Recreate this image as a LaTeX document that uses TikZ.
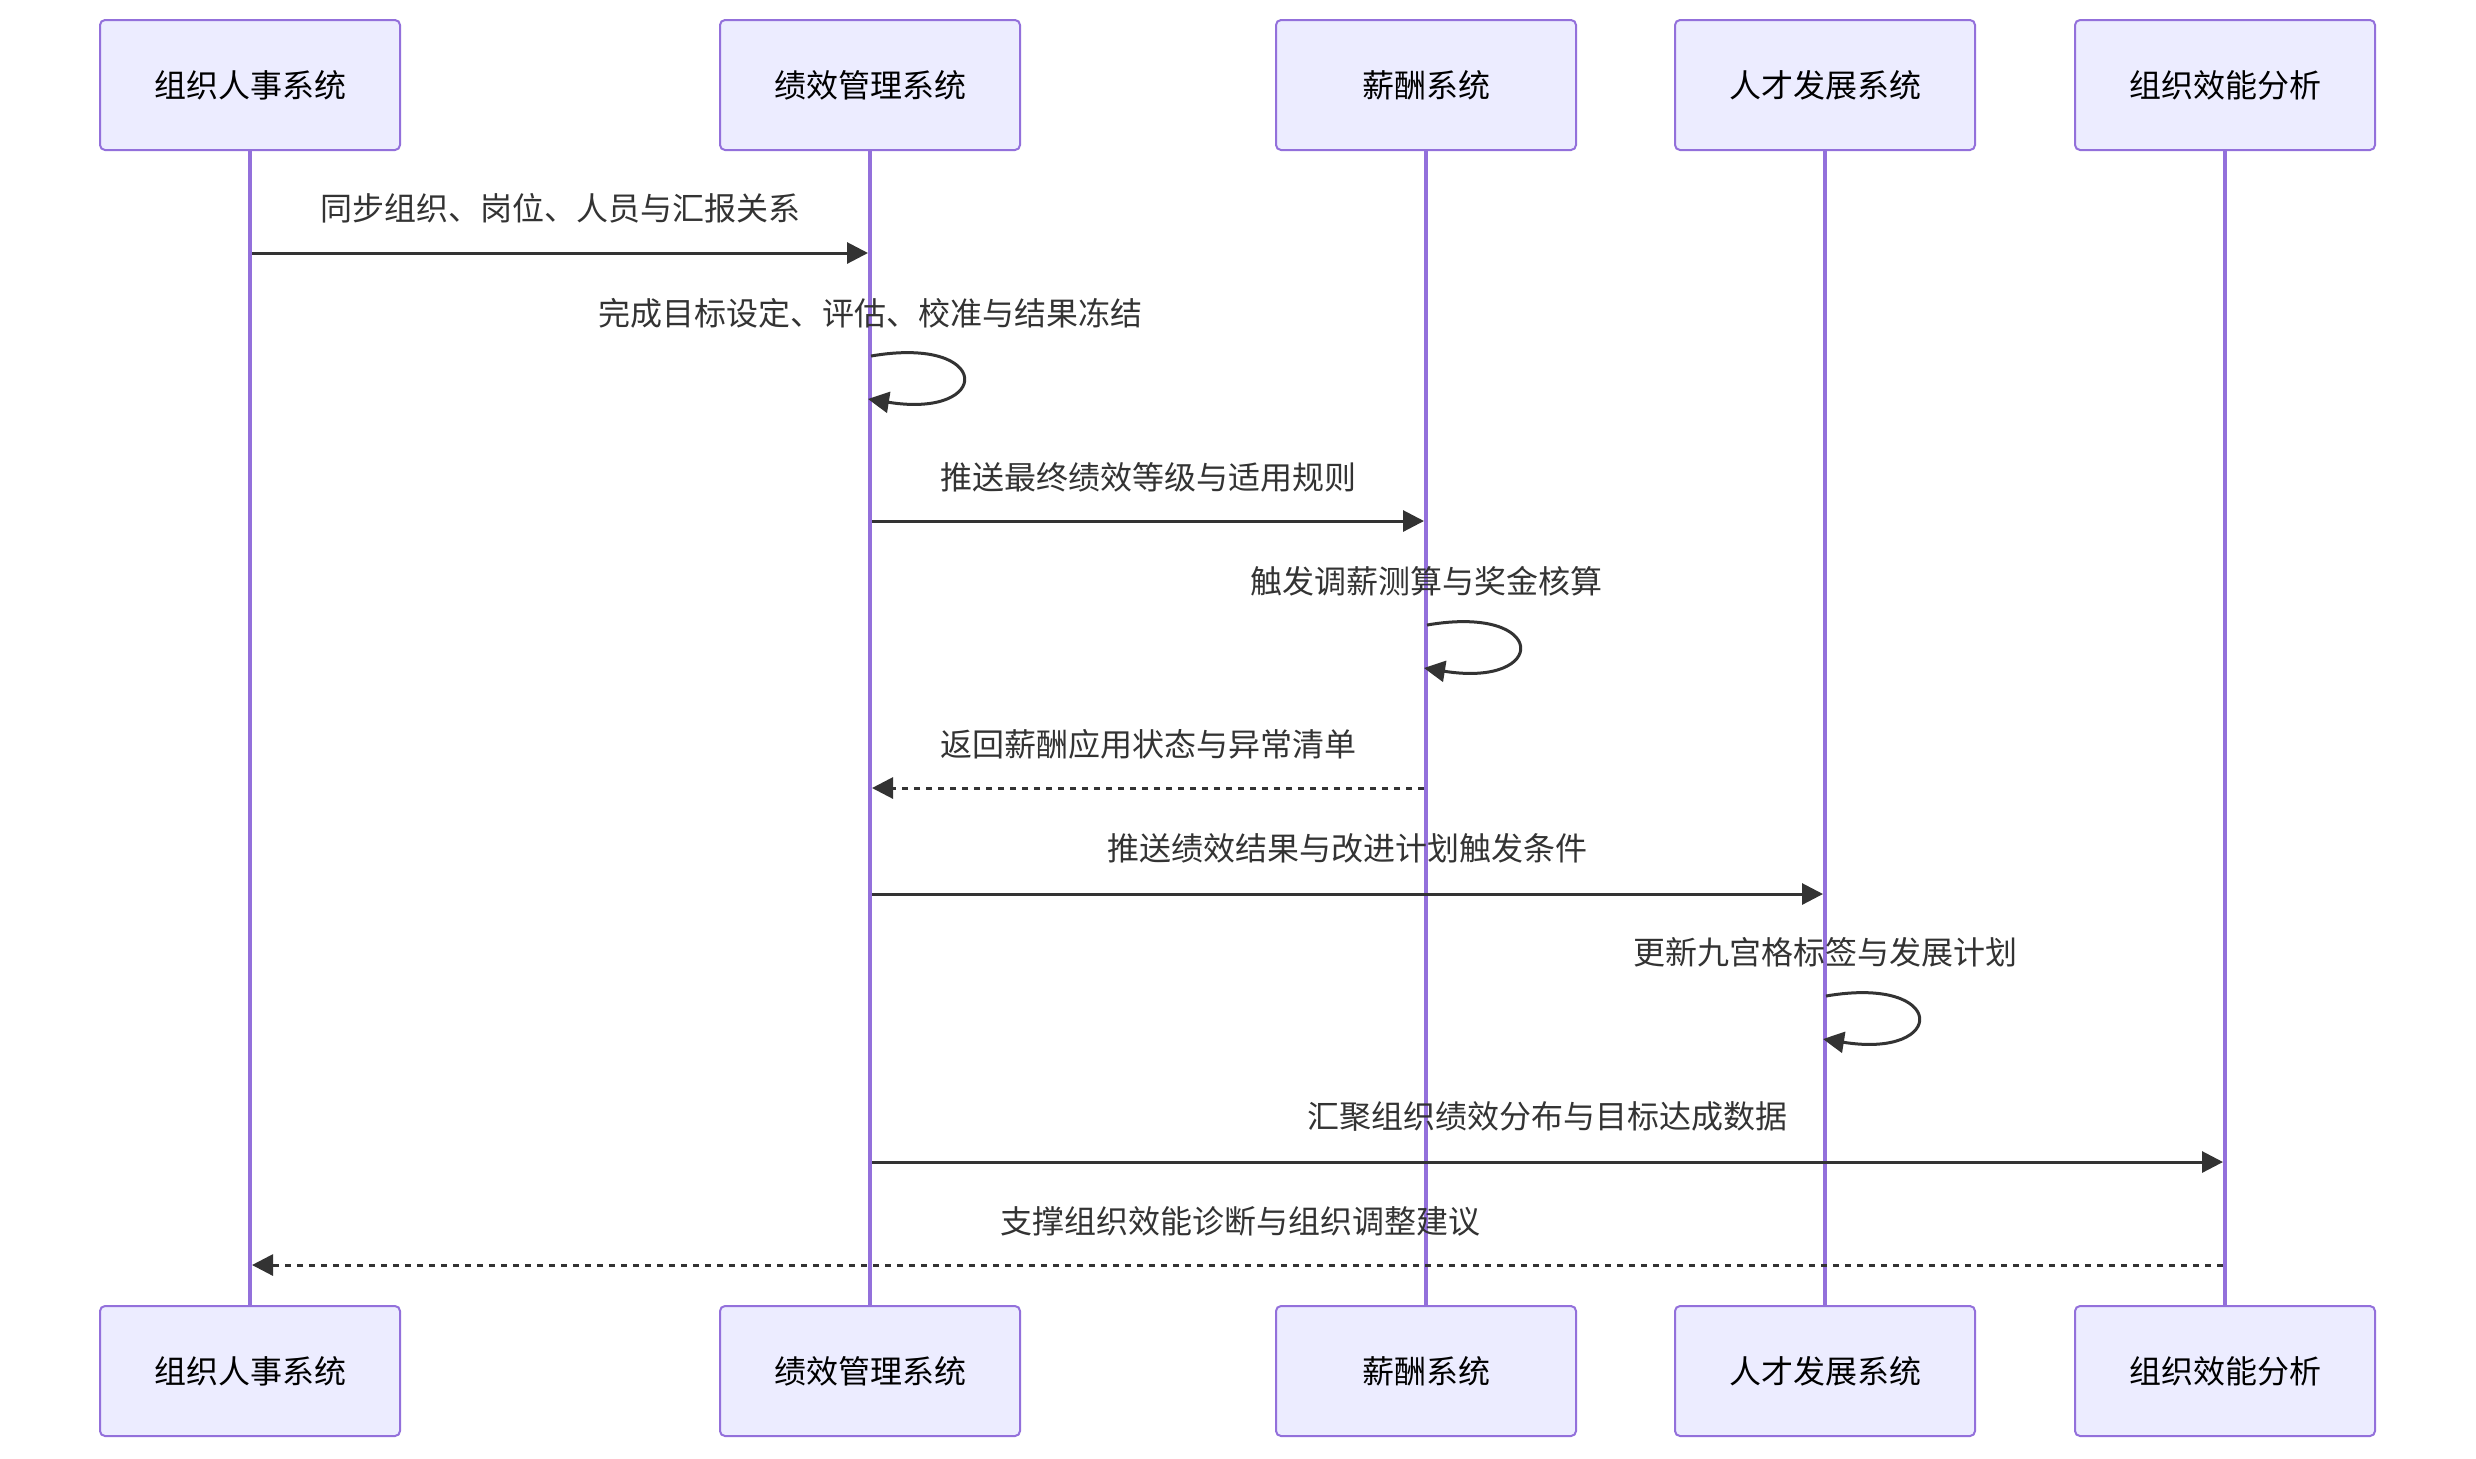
\documentclass[tikz,border=0pt]{standalone}
\usepackage{fontspec}
\setmainfont{Noto Sans CJK SC}
\usetikzlibrary{arrows.meta}
\definecolor{boxfill}{HTML}{ECECFF}
\definecolor{boxline}{HTML}{9370DB}
\definecolor{ink}{HTML}{333333}
\begin{document}
\begin{tikzpicture}[x=0.5pt,y=-0.5pt,
 actor/.style={draw=boxline, fill=boxfill, line width=1pt, rounded corners=2.5pt, minimum width=150pt, minimum height=65pt, inner sep=0pt, font=\fontsize{16}{19}\selectfont, text=black},
 life/.style={draw=boxline, line width=2pt},
 msg/.style={draw=ink, line width=1.5pt, -{Triangle[length=10.5pt,width=10.5pt]}},
 reply/.style={msg, dash pattern=on 3pt off 3pt},
 lbl/.style={font=\fontsize{16}{19}\selectfont, text=ink, inner sep=0pt},
]
\useasboundingbox (0,0) rectangle (2476,1458);
% lifelines
\foreach \n/\x in {1/250,2/870,3/1426,4/1825,5/2225}{
  \coordinate (t\n) at (\x,150);
  \coordinate (u\n) at (\x,1306);
}
\foreach \n in {1,...,5}{ \draw[life] (t\n) -- (u\n); }
% actors top
\node[actor] (a1) at (250,85) {组织人事系统};
\node[actor] (a2) at (870,85) {绩效管理系统};
\node[actor] (a3) at (1426,85) {薪酬系统};
\node[actor] (a4) at (1825,85) {人才发展系统};
\node[actor] (a5) at (2225,85) {组织效能分析};
% actors bottom
\node[actor] (b1) at (250,1371) {组织人事系统};
\node[actor] (b2) at (870,1371) {绩效管理系统};
\node[actor] (b3) at (1426,1371) {薪酬系统};
\node[actor] (b4) at (1825,1371) {人才发展系统};
\node[actor] (b5) at (2225,1371) {组织效能分析};

% message 1
\coordinate (m1s) at (252,253); \coordinate (m1e) at (868,253);
\draw[msg] (m1s) -- (m1e);
\node[lbl] (l1) at (560,208) {同步组织、岗位、人员与汇报关系};
% message 2 (self)
\coordinate (m2s) at (871,356); \coordinate (m2e) at (868,399);
\draw[msg] (m2s) .. controls ([shift={(122,-21)}]m2s) and ([shift={(122,63)}]m2s) .. (m2e);
\node[lbl] (l2) at (870,313) {完成目标设定、评估、校准与结果冻结};
% message 3
\coordinate (m3s) at (872,521); \coordinate (m3e) at (1424,521);
\draw[msg] (m3s) -- (m3e);
\node[lbl] (l3) at (1148,477) {推送最终绩效等级与适用规则};
% message 4 (self)
\coordinate (m4s) at (1427,625); \coordinate (m4e) at (1424,668);
\draw[msg] (m4s) .. controls ([shift={(122,-21)}]m4s) and ([shift={(122,63)}]m4s) .. (m4e);
\node[lbl] (l4) at (1426,581) {触发调薪测算与奖金核算};
% message 5 (reply)
\coordinate (m5s) at (1424,788); \coordinate (m5e) at (872,788);
\draw[reply] (m5s) -- (m5e);
\node[lbl] (l5) at (1148,744) {返回薪酬应用状态与异常清单};
% message 6
\coordinate (m6s) at (872,894); \coordinate (m6e) at (1823,894);
\draw[msg] (m6s) -- (m6e);
\node[lbl] (l6) at (1347,848) {推送绩效结果与改进计划触发条件};
% message 7 (self)
\coordinate (m7s) at (1826,996); \coordinate (m7e) at (1823,1039);
\draw[msg] (m7s) .. controls ([shift={(122,-21)}]m7s) and ([shift={(122,63)}]m7s) .. (m7e);
\node[lbl] (l7) at (1825,952) {更新九宫格标签与发展计划};
% message 8
\coordinate (m8s) at (872,1162); \coordinate (m8e) at (2223,1162);
\draw[msg] (m8s) -- (m8e);
\node[lbl] (l8) at (1547,1116) {汇聚组织绩效分布与目标达成数据};
% message 9 (reply)
\coordinate (m9s) at (2223,1265); \coordinate (m9e) at (252,1265);
\draw[reply] (m9s) -- (m9e);
\node[lbl] (l9) at (1240,1221) {支撑组织效能诊断与组织调整建议};
\end{tikzpicture}
\end{document}
